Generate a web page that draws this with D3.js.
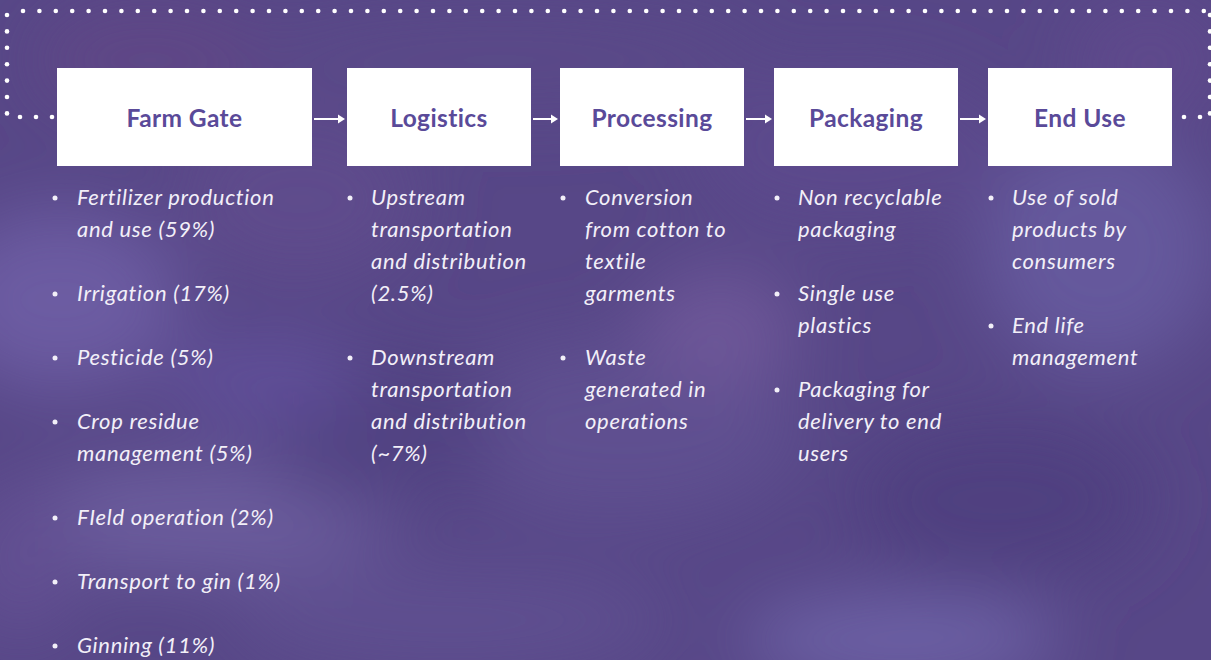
<!DOCTYPE html>
<html><head><meta charset="utf-8">
<script src="https://cdn.jsdelivr.net/npm/d3@7"></script>
<style>html,body{margin:0;padding:0;overflow:hidden;background:#574786}</style>
</head><body>
<svg id="c" width="1211" height="660"></svg>
<script>
// ---- data ----
const stages = ["Farm Gate", "Logistics", "Processing", "Packaging", "End Use"];
const farmGateItems = ["Fertilizer production\nand use (59%)", "Irrigation (17%)", "Pesticide (5%)", "Crop residue\nmanagement (5%)", "FIeld operation (2%)", "Transport to gin (1%)", "Ginning (11%)"];
const logisticsItems = ["Upstream\ntransportation\nand distribution\n(2.5%)", "Downstream\ntransportation\nand distribution\n(~7%)"];
const processingItems = ["Conversion\nfrom cotton to\ntextile\ngarments", "Waste\ngenerated in\noperations"];
const packagingItems = ["Non recyclable\npackaging", "Single use\nplastics", "Packaging for\ndelivery to end\nusers"];
const endUseItems = ["Use of sold\nproducts by\nconsumers", "End life\nmanagement"];
const stageItems = [farmGateItems, logisticsItems, processingItems, packagingItems, endUseItems];

// ---- layout ----
const W = 1211, H = 660;
const svg = d3.select("#c");
const defs = svg.append("defs");
const blur = defs.append("filter").attr("id","blur").attr("x","-50%").attr("y","-50%").attr("width","200%").attr("height","200%");
blur.append("feGaussianBlur").attr("stdDeviation", 35);

// background
svg.append("rect").attr("width",W).attr("height",H).attr("fill","#574787");
const blobs = [
  [60,300,120,90,"#6c5ca2"],[300,200,120,80,"#5e4c8c"],[200,520,200,60,"#6a5b9c"],
  [620,430,180,90,"#5f4f90"],[720,330,80,60,"#6d5698"],[1000,500,150,80,"#4f4080"],
  [1100,250,120,120,"#65589c"],[450,620,220,50,"#5e5090"],[900,640,160,40,"#6e64a8"],
  [500,60,260,50,"#5a4888"],[150,60,120,60,"#5e4686"],[850,150,160,80,"#5b4a8c"],
  [380,430,120,80,"#514282"],[1150,60,80,60,"#5f4a8c"],[20,560,60,80,"#624f92"],
  [260,380,100,40,"#60509a"]
];
svg.append("g").attr("filter","url(#blur)").selectAll("ellipse").data(blobs).join("ellipse")
  .attr("cx",d=>d[0]).attr("cy",d=>d[1]).attr("rx",d=>d[2]).attr("ry",d=>d[3]).attr("fill",d=>d[4]);

// dotted frame
const dotStep = 16.4;
const frame = svg.append("g").attr("fill","#ffffff");
const topDots = d3.range(23, 1205, dotStep);
frame.selectAll(".t").data(topDots).join("circle").attr("cx",d=>d).attr("cy",11).attr("r",2.3);
const sideYs = d3.range(15, 116, dotStep);
frame.selectAll(".l").data(sideYs).join("circle").attr("cx",7).attr("cy",d=>d).attr("r",2.3);
frame.selectAll(".r").data(sideYs).join("circle").attr("cx",1210).attr("cy",d=>d).attr("r",2.3);
frame.selectAll(".bl").data([20,36,52]).join("circle").attr("cx",d=>d).attr("cy",117).attr("r",2.3);
frame.selectAll(".br").data([1184,1200]).join("circle").attr("cx",d=>d).attr("cy",117).attr("r",2.3);

// boxes
const boxX = [57, 347, 560, 774, 988];
const boxW = [255, 184, 184, 184, 184];
const boxTop = 68, boxH = 98;
const boxes = svg.append("g");
boxes.selectAll("rect").data(stages).join("rect")
  .attr("x",(d,i)=>boxX[i]).attr("y",boxTop).attr("width",(d,i)=>boxW[i]).attr("height",boxH).attr("fill","#ffffff");
boxes.selectAll("text").data(stages).join("text")
  .attr("x",(d,i)=>boxX[i]+boxW[i]/2).attr("y",127)
  .attr("text-anchor","middle").attr("font-family","'Lato','Open Sans',sans-serif")
  .attr("font-weight",700).attr("font-size",24.5).attr("letter-spacing",0.4).attr("fill","#5a4a99").text(d=>d);

// arrows
const arrowY = 119;
const arrows = svg.append("g").attr("stroke","#fff").attr("fill","#fff");
stages.slice(1).forEach((s,i)=>{
  const x0 = boxX[i]+boxW[i]+2, x1 = boxX[i+1]-2;
  arrows.append("line").attr("x1",x0).attr("x2",x1-6).attr("y1",arrowY).attr("y2",arrowY).attr("stroke-width",2);
  arrows.append("path").attr("stroke","none").attr("d",`M${x1},${arrowY} L${x1-7},${arrowY-4.5} L${x1-7},${arrowY+4.5} Z`);
});

// bullet lists
const rowY = d3.scaleLinear().domain([0,1]).range([197, 229]);
const bulletX = [55, 350, 563, 777, 991];
const textX = [77, 371, 585, 798, 1012];
const lists = svg.append("g").attr("font-family","'Lato','Open Sans',sans-serif")
  .attr("font-style","italic").attr("font-size",22).attr("letter-spacing",0.7).attr("fill","#f2eff8");
stageItems.forEach((items, si)=>{
  let row = 0;
  items.forEach(item=>{
    const lines = item.split("\n");
    lists.append("circle").attr("cx",bulletX[si]).attr("cy",rowY(row)+1).attr("r",2.5).attr("fill","#f2eff8");
    lines.forEach((ln,li)=>{
      lists.append("text").attr("x",textX[si]).attr("y",rowY(row+li)+8).text(ln);
    });
    row += lines.length + 1;
  });
});
</script>
</body></html>
